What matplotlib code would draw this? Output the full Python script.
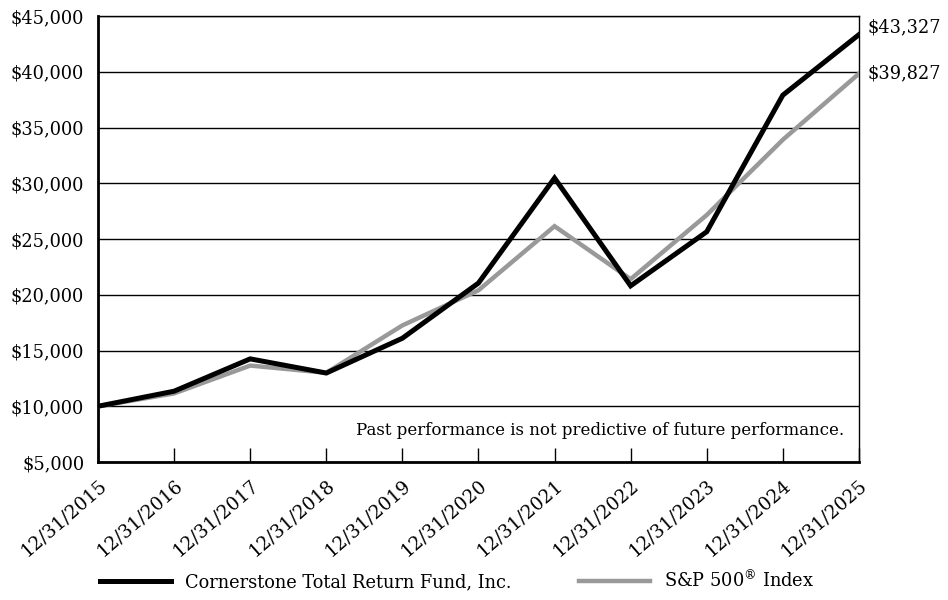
import matplotlib
matplotlib.use("Agg")
import matplotlib.pyplot as plt
from matplotlib.ticker import FuncFormatter

# growth of $10,000
dates = ["12/31/2015", "12/31/2016", "12/31/2017", "12/31/2018", "12/31/2019",
         "12/31/2020", "12/31/2021", "12/31/2022", "12/31/2023", "12/31/2024",
         "12/31/2025"]
fund = [10000, 11350, 14250, 12980, 16100, 21050, 30470, 20800, 25650, 37900, 43327]
sp500 = [10000, 11150, 13650, 13000, 17250, 20400, 26150, 21400, 27150, 33900, 39827]
series_names = ["Cornerstone Total Return Fund, Inc.", "S&P 500$^{\u00ae}$ Index"]
y_ticks = [5000, 10000, 15000, 20000, 25000, 30000, 35000, 40000, 45000]
note = "Past performance is not predictive of future performance."

plt.rcParams["font.family"] = ["DejaVu Serif"]
plt.rcParams["mathtext.fontset"] = "dejavuserif"
plt.rcParams["font.size"] = 12

fig = plt.figure(figsize=(9.48, 6), dpi=100)
ax = fig.add_axes([0.1034, 0.23, 0.8026, 0.7433])

x = list(range(len(dates)))
ax.plot(x, sp500, color="#999999", lw=3.2, solid_joinstyle="miter", zorder=3,
        label=series_names[1])
ax.plot(x, fund, color="black", lw=3.6, solid_joinstyle="miter", zorder=4,
        label=series_names[0])

ax.set_xlim(0, len(dates) - 1)
ax.set_ylim(y_ticks[0], y_ticks[-1])
ax.set_yticks(y_ticks)
ax.yaxis.set_major_formatter(FuncFormatter(lambda v, p: f"${v:,.0f}"))
ax.tick_params(axis="y", length=0, pad=10, labelsize=12.8)
ax.grid(axis="y", color="black", lw=1)

ax.set_xticks(x)
ax.set_xticklabels(dates, rotation=41, ha="right", rotation_mode="anchor")
ax.tick_params(axis="x", direction="in", length=10, width=1, pad=10,
               labelsize=13.3)

for side in ["top", "right"]:
    ax.spines[side].set_linewidth(1)
for side in ["left", "bottom"]:
    ax.spines[side].set_linewidth(2)

ax.text(0.98, 0.07, note, transform=ax.transAxes, ha="right", va="center")

offsets = [(6, 5), (6, 0)]
for vals, off in zip([fund, sp500], offsets):
    ax.annotate(f"${vals[-1]:,.0f}", xy=(x[-1], vals[-1]), xytext=off,
                textcoords="offset points", ha="left", va="center",
                fontsize=12.8, annotation_clip=False)

handles, labels = ax.get_legend_handles_labels()
fig.legend(handles[::-1], labels[::-1], loc="lower center", ncol=2,
           bbox_to_anchor=(0.482, -0.012), frameon=False, handlelength=4,
           handletextpad=0.8, columnspacing=3.8, fontsize=12.8)

fig.savefig("out.png", dpi=100)
